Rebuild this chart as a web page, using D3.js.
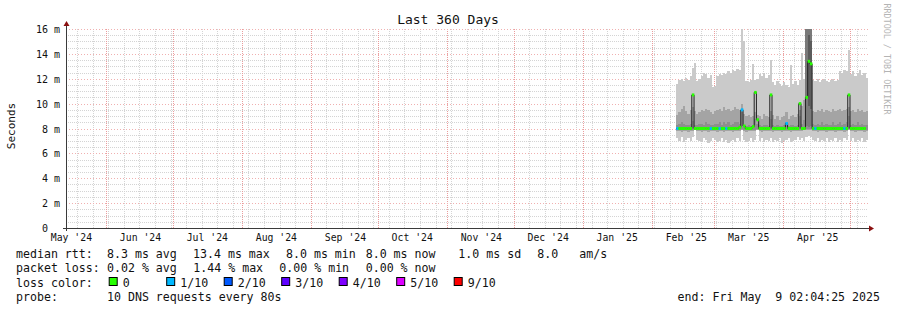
<!DOCTYPE html>
<html><head><meta charset="utf-8">
<script src="https://cdn.jsdelivr.net/npm/d3@7"></script>
<style>
body{margin:0;background:#fff;}
svg text{font-family:"DejaVu Sans Mono",monospace;white-space:pre;}
</style></head><body>
<svg id="c" width="897" height="310"></svg>
<script>
// ---------------- data ----------------
const title = "Last 360 Days";
const endTime = "2025-05-09T02:04:25Z";
const spanDays = 360;
const firstDay = "2025-02-12";           // first day with data, one value per day
const yTicks = [0, 2, 4, 6, 8, 10, 12, 14, 16];   // ms
const yMax = 16;

const median = [8.0,8.0,8.0,8.0,8.0,8.0,8.0,10.7,8.0,8.0, 8.0,8.0,8.0,8.0,8.0,8.0,8.0,8.0,8.0,8.0,
                8.0,8.0,8.0,8.0,8.0,8.0,8.0,8.0,8.1,9.5, 8.2,8.0,8.0,8.0,8.15,10.9,8.7,8.0,8.0,8.0,
                8.0,8.0,10.7,8.0,8.0,8.0,8.0,8.0,8.0,8.4, 8.0,8.0,8.0,8.0,8.0,10.0,8.0,8.0,10.5,13.4,
                13.2,8.0,8.0,8.0,8.0,8.0,8.0,8.0,8.0,8.0, 8.0,8.0,8.0,8.0,8.0,8.0,8.0,10.7,8.0,8.0,
                8.0,8.0,8.0,8.0,8.0,8.0];
const loss = [1,0,0,0,0,0,0,0,0,0, 0,0,0,0,0,1,0,0,0,1, 0,0,1,0,0,0,0,0,0,1,
              0,0,0,0,0,0,0,0,0,0, 0,0,0,0,0,0,0,0,0,1, 0,0,0,0,0,0,0,0,0,0,
              0,0,1,0,0,0,0,0,0,0, 0,0,0,0,0,1,0,0,0,0, 0,0,0,0,0,0];
const outerHi = [11.6,11.9,12.0,11.8,12.1,11.9,12.2,12.9,13.3,11.8, 12.0,12.2,12.5,12.4,12.1,12.3,11.3,11.4,12.2,12.4,
                 12.3,12.5,12.4,12.6,12.5,12.7,12.6,12.8,12.7,16.0, 15.0,11.8,11.7,11.9,13.2,11.9,12.0,12.4,12.2,12.5,
                 12.1,12.3,13.5,11.7,11.5,11.8,11.6,11.4,11.7,11.5, 11.3,13.1,11.6,11.8,11.5,11.9,14.1,12.0,16.0,16.0,
                 16.0,11.9,11.8,12.0,11.7,11.9,12.0,11.8,11.7,11.9, 12.0,11.8,11.9,12.6,12.5,12.7,12.6,14.3,12.4,12.6,
                 12.2,12.5,12.7,12.3,12.5,12.1];
const outerLo = [7.2,7.0,7.3,6.9,7.1,7.2,7.0,7.3,8.0,7.1, 7.0,6.9,7.2,7.1,6.8,7.0,7.2,7.1,6.9,7.0,
                 7.2,6.9,7.1,6.8,7.0,7.1,6.9,7.2,7.0,8.0, 7.1,6.9,7.0,7.2,6.9,7.1,8.0,7.0,7.2,6.9,
                 7.1,7.0,7.2,6.9,7.1,7.0,7.2,6.8,7.0,7.1, 7.2,6.9,7.0,7.1,7.3,7.1,7.2,7.0,7.3,7.4,
                 7.3,7.1,7.0,7.2,6.9,7.1,7.0,7.2,6.9,7.1, 7.0,7.2,6.9,7.1,7.0,7.2,7.1,8.0,7.0,7.2,
                 6.9,7.1,7.0,7.2,6.9,7.1];
const midHi = [9.1,9.3,9.6,9.8,9.4,9.2,9.5,9.7,9.4,9.2, 9.3,9.5,9.4,9.6,9.5,9.3,9.2,9.4,9.5,9.6,
               9.4,9.7,9.5,9.6,9.4,9.5,9.7,9.6,9.5,10.0, 9.2,9.0,9.1,8.9,9.0,9.3,9.1,9.0,8.8,9.2,
               9.0,8.9,9.4,9.1,8.8,9.0,8.7,8.9,9.0,9.3, 8.8,9.0,9.1,8.9,9.2,9.5,9.8,10.3,16.0,16.0,
               16.0,9.4,9.3,9.5,9.4,9.6,9.3,9.5,9.4,9.3, 9.6,9.4,9.5,9.6,9.4,9.5,9.6,9.7,9.4,9.5,
               9.3,9.6,9.4,9.5,9.3,9.4];
const midLo = [7.8,7.8,7.7,7.8,7.8,7.7,7.8,7.8,7.9,7.8, 7.8,7.7,7.8,7.8,7.7,7.8,7.8,7.8,7.7,7.8,
               7.8,7.7,7.8,7.8,7.8,7.7,7.8,7.8,7.8,7.9, 7.8,7.7,7.8,7.8,7.8,7.8,7.9,7.8,7.7,7.8,
               7.8,7.8,7.8,7.7,7.8,7.8,7.8,7.7,7.8,7.8, 7.8,7.7,7.8,7.8,7.8,7.8,7.8,7.9,7.9,7.9,
               7.9,7.8,7.8,7.7,7.8,7.8,7.8,7.7,7.8,7.8, 7.8,7.7,7.8,7.8,7.8,7.7,7.8,7.9,7.8,7.8,
               7.7,7.8,7.8,7.8,7.7,7.8];
const innerHi = [8.3,8.4,8.5,8.4,8.3,8.3,8.4,8.6,8.3,8.3, 8.4,8.4,8.3,8.5,8.4,8.3,8.3,8.4,8.4,8.5,
                 8.3,8.5,8.4,8.5,8.3,8.4,8.5,8.5,8.4,9.3, 8.3,8.2,8.3,8.2,8.3,8.8,8.4,8.3,8.2,8.3,
                 8.3,8.2,8.8,8.3,8.2,8.3,8.2,8.2,8.3,8.5, 8.2,8.3,8.3,8.2,8.3,9.0,8.4,8.7,16.0,16.0,
                 16.0,8.4,8.3,8.4,8.3,8.5,8.3,8.4,8.3,8.3, 8.5,8.3,8.4,8.5,8.3,8.4,8.5,9.0,8.3,8.4,
                 8.3,8.5,8.3,8.4,8.3,8.3];
const innerLo = [7.9,7.9,7.9,7.9,7.9,7.9,7.9,7.9,8.0,7.9, 7.9,7.9,7.9,7.9,7.9,7.9,7.9,7.9,7.9,7.9,
                 7.9,7.9,7.9,7.9,7.9,7.9,7.9,7.9,7.9,8.0, 7.9,7.9,7.9,7.9,7.9,7.9,8.0,7.9,7.9,7.9,
                 7.9,7.9,7.9,7.9,7.9,7.9,7.9,7.9,7.9,7.9, 7.9,7.9,7.9,7.9,7.9,7.9,7.9,7.9,8.0,8.0,
                 8.0,7.9,7.9,7.9,7.9,7.9,7.9,7.9,7.9,7.9, 7.9,7.9,7.9,7.9,7.9,7.9,7.9,8.0,7.9,7.9,
                 7.9,7.9,7.9,7.9,7.9,7.9];
// darker smoke layers, only where most pings were slow
const coreDays = [58, 59, 60];
const coreLo = [8.2, 8.1, 8.2];
const coreHi = [16.0, 16.0, 16.0];
const centerDays = [59, 60];
const centerLo = [9.8, 9.6];
const centerHi = [15.5, 15.0];

const lossLabels = ["0", "1/10", "2/10", "3/10", "4/10", "5/10", "9/10"];
const lossColors = ["#26ff00", "#00b8ff", "#0059ff", "#5e00ff", "#7e00ff", "#dd00ff", "#ff0000"];
const smokeColors = ["#cacaca", "#a4a4a4", "#8e8e8e", "#7a7a7a", "#5c5c5c"];

const legendRtt = [["median rtt:", 16], ["8.3 ms avg", 107], ["13.4 ms max", 193], ["8.0 ms min", 286],
                   ["8.0 ms now", 365.7], ["1.0 ms sd", 458.3], ["8.0", 537.3], ["am/s", 579.3]];
const legendLoss = [["packet loss:", 16], ["0.02 % avg", 107], ["1.44 % max", 193.3],
                    ["0.00 % min", 279.3], ["0.00 % now", 365.7]];
const probeText = "10 DNS requests every 80s";
const endText = "end: Fri May  9 02:04:25 2025";
const yLabel = "Seconds";
const watermark = "RRDTOOL / TOBI OETIKER";

// ---------------- drawing ----------------
const svg = d3.select("#c");
const X0 = 66, X1 = 868, YB = 228, YT = 29;
const end = new Date(endTime);
const start = d3.utcDay.offset(end, -spanDays);
const x = d3.scaleUtc().domain([start, end]).range([X0, X1]);
const y = d3.scaleLinear().domain([0, yMax]).range([YB, YT]);
const day0 = new Date(firstDay + "T00:00:00Z");
const days = median.map((_, i) => d3.utcDay.offset(day0, i));
const px = v => Math.round(v) + 0.5;

svg.append("rect").attr("width", 897).attr("height", 310).attr("fill", "#fff");

// grid
const g = svg.append("g").attr("shape-rendering", "crispEdges");
const minorY = d3.range(0.5, yMax + 0.01, 0.5).filter(v => v % 2 !== 0);
g.selectAll(".hmin").data(minorY).join("line")
  .attr("x1", X0).attr("x2", X1).attr("y1", d => px(y(d))).attr("y2", d => px(y(d)))
  .attr("stroke", "#d4d4d4").attr("stroke-dasharray", "1,1");
const weeks = d3.utcSunday.range(start, end);
g.selectAll(".vmin").data(weeks).join("line")
  .attr("y1", YT).attr("y2", YB).attr("x1", d => px(x(d))).attr("x2", d => px(x(d)))
  .attr("stroke", "#d4d4d4").attr("stroke-dasharray", "1,1");
const months = d3.utcMonth.range(start, end);
g.selectAll(".vmaj").data(months).join("line")
  .attr("y1", YT).attr("y2", YB).attr("x1", d => px(x(d))).attr("x2", d => px(x(d)))
  .attr("stroke", "#ea9c9c").attr("stroke-dasharray", "1,1");
g.selectAll(".hmaj").data(yTicks.filter(v => v > 0)).join("line")
  .attr("x1", X0).attr("x2", X1).attr("y1", d => px(y(d))).attr("y2", d => px(y(d)))
  .attr("stroke", "#f0b0b0").attr("stroke-dasharray", "1,2");

// smoke
function dayRects(idx, lo, hi, color) {
  svg.append("g").selectAll("rect").data(idx).join("rect")
    .attr("x", k => x(days[k])).attr("width", k => x(d3.utcDay.offset(days[k], 1)) - x(days[k]) + 0.05)
    .attr("y", (k, j) => y(Math.min(hi[j], yMax))).attr("height", (k, j) => y(lo[j]) - y(Math.min(hi[j], yMax)))
    .attr("fill", color).attr("shape-rendering", "crispEdges");
}
const all = days.map((_, i) => i);
dayRects(all, outerLo, outerHi, smokeColors[0]);
dayRects(all, midLo, midHi, smokeColors[1]);
dayRects(all, innerLo, innerHi, smokeColors[2]);
dayRects(coreDays, coreLo, coreHi, smokeColors[3]);
dayRects(centerDays, centerLo, centerHi, smokeColors[4]);

// median line
const medPts = days.map((d, i) => ({d, v: median[i]}));
svg.append("path").attr("d", d3.line().curve(d3.curveStepAfter).x(p => x(p.d)).y(p => y(p.v))(medPts))
  .attr("fill", "none").attr("stroke", "#202020").attr("stroke-width", 1);
// loss coloured median marks
svg.append("g").selectAll("rect").data(days.slice(0, -1)).join("rect")
  .attr("x", d => x(d)).attr("width", d => x(d3.utcDay.offset(d, 1)) - x(d) + 0.3)
  .attr("y", (d, i) => y(median[i]) - 1.5).attr("height", 3)
  .attr("fill", (d, i) => lossColors[loss[i]]);

// axes
const axisColor = "#3a3a3a", arrowColor = "#8b1010";
svg.append("line").attr("x1", X0 + 0.5).attr("x2", X0 + 0.5).attr("y1", YB + 3).attr("y2", YT - 5)
  .attr("stroke", axisColor).attr("shape-rendering", "crispEdges");
svg.append("line").attr("x1", X0 - 3).attr("x2", X1 + 2).attr("y1", YB + 0.5).attr("y2", YB + 0.5)
  .attr("stroke", axisColor).attr("shape-rendering", "crispEdges");
svg.append("path").attr("d", `M${X0 - 2.5},${YT - 3} L${X0 + 3.5},${YT - 3} L${X0 + 0.5},${YT - 8} Z`).attr("fill", arrowColor);
svg.append("path").attr("d", `M${X1 + 1},${YB - 2.5} L${X1 + 1},${YB + 3.5} L${X1 + 6},${YB + 0.5} Z`).attr("fill", arrowColor);

// y tick labels
const yAxis = d3.axisLeft(y).tickValues(yTicks).tickSize(0).tickPadding(6)
  .tickFormat(v => v === 0 ? "0  " : v + " m");
const ya = svg.append("g").attr("transform", `translate(${X0},0)`).call(yAxis);
ya.select(".domain").remove();
ya.selectAll("text").attr("font-size", 10).attr("fill", "#111")
  .attr("font-family", "DejaVu Sans Mono").attr("dy", "0.36em");

// x tick labels (labels sit half a month after each month start)
const labelDates = [d3.utcMonth.floor(start)].concat(months)
  .map(m => d3.utcHour.offset(m, 15 * 24 + 7)).filter(d => d < end);
const xAxis = d3.axisBottom(x).tickValues(labelDates)
  .tickSize(0).tickPadding(6).tickFormat(d => d3.utcFormat("%b '%y")(d));
const xa = svg.append("g").attr("transform", `translate(0,${YB})`).call(xAxis);
xa.select(".domain").remove();
xa.selectAll("text").attr("font-size", 9.8).attr("fill", "#111").attr("font-family", "DejaVu Sans Mono");

// title etc
svg.append("text").attr("x", 448).attr("y", 24).attr("text-anchor", "middle")
  .attr("font-size", 13).attr("fill", "#111").text(title);
svg.append("text").attr("transform", "translate(15,126) rotate(-90)").attr("text-anchor", "middle")
  .attr("font-size", 11).attr("fill", "#111").text(yLabel);
svg.append("text").attr("transform", "translate(883.5,59) rotate(90)").attr("text-anchor", "middle")
  .attr("font-size", 8.4).attr("fill", "#b4b4b4").text(watermark);

// legend
const fs = 11.6;
function legendLine(items, yy) {
  items.forEach(([t, xx]) => svg.append("text").attr("x", xx).attr("y", yy).attr("font-size", fs)
    .attr("fill", "#111").text(t));
}
legendLine(legendRtt, 258);
legendLine(legendLoss, 272.3);
legendLine([["loss color:", 16]], 286.5);
lossLabels.forEach((lab, i) => {
  const bx = 108.7 + i * 57.5;
  svg.append("rect").attr("x", bx + 0.5).attr("y", 277.5).attr("width", 8).attr("height", 8)
    .attr("fill", lossColors[i]).attr("stroke", "#000").attr("stroke-width", 1);
  svg.append("text").attr("x", bx + 14).attr("y", 286.5).attr("font-size", fs).attr("fill", "#111").text(lab);
});
legendLine([["probe:", 16], [probeText, 107]], 300.6);
svg.append("text").attr("x", 880).attr("y", 300.6).attr("text-anchor", "end").attr("font-size", fs)
  .attr("fill", "#111").text(endText);
</script>
</body></html>
